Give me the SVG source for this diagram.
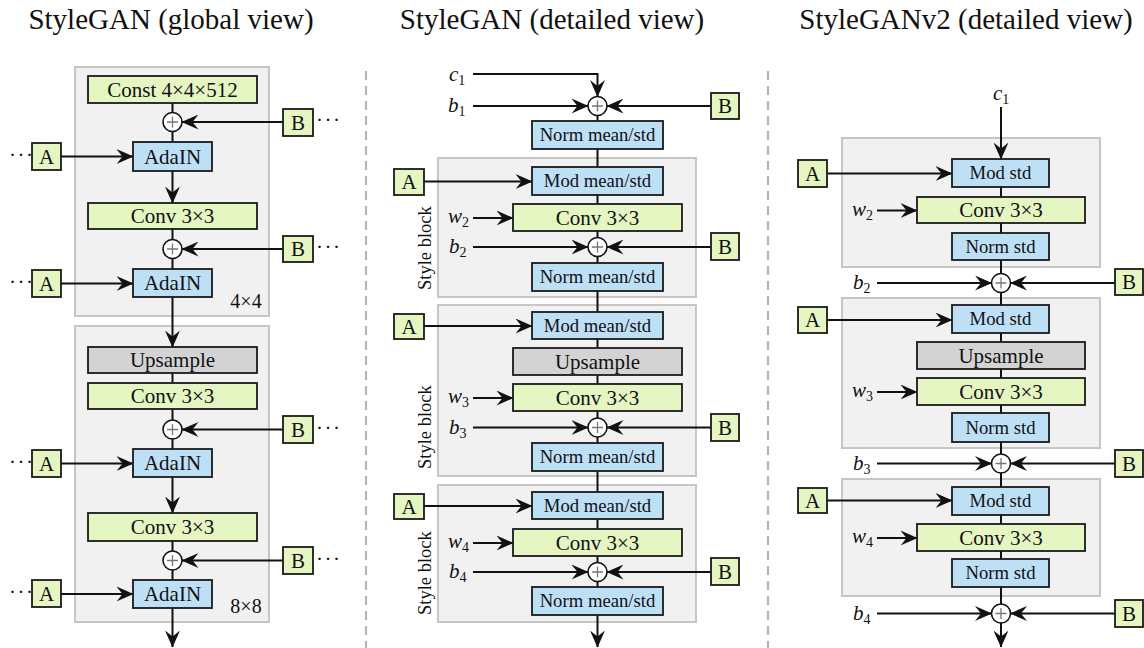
<svg xmlns="http://www.w3.org/2000/svg" width="1144" height="648" viewBox="0 0 1144 648">
<style>
text{font-family:"Liberation Serif","Times New Roman",serif;fill:#111}
.title{font-size:29px;text-anchor:middle}
.t21{font-size:21px;text-anchor:middle}
.t19{font-size:18.7px;text-anchor:middle}
.it{font-size:21px;font-style:italic}
.sub{font-size:14px;font-style:normal}
.sb{font-size:18.5px}
.res{font-size:20px;text-anchor:middle}
.dots{font-size:21px;letter-spacing:1.5px}
.panel{fill:#f1f1f1;stroke:#c6c6c6;stroke-width:2}
.g{fill:#e5f6c2;stroke:#1a1a1a;stroke-width:1.8}
.b{fill:#bee0f7;stroke:#1a1a1a;stroke-width:1.8}
.u{fill:#d3d3d3;stroke:#1a1a1a;stroke-width:1.8}
.ln{fill:none;stroke:#111;stroke-width:2}
.ar{fill:none;stroke:#111;stroke-width:2;marker-end:url(#ah)}
.pc{fill:#fff;stroke:#111;stroke-width:1.6}
.pp{stroke:#777;stroke-width:1.3}
.sep{stroke:#b5b5b5;stroke-width:2.2;stroke-dasharray:9 6}
</style>
<defs>
<marker id="ah" markerUnits="userSpaceOnUse" markerWidth="17" markerHeight="15" viewBox="0 0 17 15" refX="16.5" refY="7.5" orient="auto">
<path d="M0,0 L17,7.5 L0,15 L6,7.5 z" fill="#111"/>
</marker>
<g id="plus"><circle r="9.5" class="pc"/><path d="M-5.5,0 H5.5 M0,-5.5 V5.5" class="pp"/></g>
</defs>
<rect width="1144" height="648" fill="#fff"/>

<g id="titles">
<text class="title" x="171" y="29">StyleGAN (global view)</text>
<text class="title" x="552" y="29">StyleGAN (detailed view)</text>
<text class="title" x="966" y="29">StyleGANv2 (detailed view)</text>
</g>

<g id="separators">
<line class="sep" x1="366" y1="71" x2="366" y2="648"/>
<line class="sep" x1="768" y1="71" x2="768" y2="648"/>
</g>

<g id="panels">
<rect id="p-l1" class="panel" x="75" y="67" width="194" height="249"/>
<rect id="p-l2" class="panel" x="75" y="326" width="194" height="296"/>
<rect id="p-m1" class="panel" x="438" y="158" width="258" height="139"/>
<rect id="p-m2" class="panel" x="438" y="305" width="258" height="171"/>
<rect id="p-m3" class="panel" x="438" y="485" width="258" height="137"/>
<rect id="p-r1" class="panel" x="842" y="138" width="258" height="129"/>
<rect id="p-r2" class="panel" x="842" y="298" width="258" height="150"/>
<rect id="p-r3" class="panel" x="842" y="479" width="258" height="117"/>
</g>

<g id="connectors">
<!-- left column -->
<path class="ln" d="M172.5,103 V142"/>
<path class="ar" d="M172.5,171 V203"/>
<path class="ln" d="M172.5,229 V269"/>
<path class="ar" d="M172.5,297 V347"/>
<path class="ln" d="M172.5,373 V383"/>
<path class="ln" d="M172.5,409 V449"/>
<path class="ar" d="M172.5,477 V513"/>
<path class="ln" d="M172.5,541 V580"/>
<path class="ar" d="M172.5,608 V647"/>
<path class="ar" d="M283,122 H182"/>
<path class="ar" d="M61,156.5 H133"/>
<path class="ar" d="M283,249 H182"/>
<path class="ar" d="M61,283.5 H133"/>
<path class="ar" d="M283,429.5 H182"/>
<path class="ar" d="M61,463.5 H133"/>
<path class="ar" d="M283,560.5 H182"/>
<path class="ar" d="M61,594 H133"/>
<!-- middle column -->
<path class="ar" d="M473,74 H597.5 V96.5"/>
<path class="ar" d="M473,106 H588"/>
<path class="ar" d="M711,106 H607"/>
<path class="ln" d="M597.5,115 V121 M597.5,149 V167 M597.5,195 V204 M597.5,231 V263 M597.5,291 V312 M597.5,339 V348 M597.5,375 V384 M597.5,411 V443 M597.5,471 V492 M597.5,519 V529 M597.5,556 V587"/>
<path class="ar" d="M597.5,615 V647"/>
<path class="ar" d="M424,181.5 H532"/>
<path class="ar" d="M473,218 H513"/>
<path class="ar" d="M473,247 H588"/>
<path class="ar" d="M711,247 H607"/>
<path class="ar" d="M424,326 H532"/>
<path class="ar" d="M473,398 H513"/>
<path class="ar" d="M473,427.5 H588"/>
<path class="ar" d="M711,427.5 H607"/>
<path class="ar" d="M424,506 H532"/>
<path class="ar" d="M473,543 H513"/>
<path class="ar" d="M473,572 H588"/>
<path class="ar" d="M711,572 H607"/>
<!-- right column -->
<path class="ar" d="M1001,107 V159"/>
<path class="ln" d="M1001,187 V197 M1001,223 V233 M1001,260 V305 M1001,333 V342 M1001,369 V378 M1001,405 V413 M1001,442 V487 M1001,515 V524 M1001,551 V559"/>
<path class="ar" d="M1001,587 V647"/>
<path class="ar" d="M827,173.5 H952"/>
<path class="ar" d="M877,210.5 H917"/>
<path class="ar" d="M877,283 H991.5"/>
<path class="ar" d="M1115,283 H1010.5"/>
<path class="ar" d="M827,320 H952"/>
<path class="ar" d="M877,392 H917"/>
<path class="ar" d="M877,463.5 H991.5"/>
<path class="ar" d="M1115,463.5 H1010.5"/>
<path class="ar" d="M827,500.5 H952"/>
<path class="ar" d="M877,538 H917"/>
<path class="ar" d="M877,613.5 H991.5"/>
<path class="ar" d="M1115,613.5 H1010.5"/>
</g>

<!-- ===== Left column nodes ===== -->
<g id="l-const"><rect class="g" x="88" y="76" width="169" height="27"/><text class="t21" x="172.5" y="96.5">Const 4×4×512</text></g>
<g id="l-plus1"><use href="#plus" x="172.5" y="122"/></g>
<g id="l-B1"><rect class="g" x="283" y="109" width="30" height="27"/><text class="t21" x="298" y="129.5">B</text><text class="dots" x="316" y="127">···</text></g>
<g id="l-A1"><rect class="g" x="32" y="143" width="29" height="27"/><text class="t21" x="46.5" y="163.5">A</text><text class="dots" x="9" y="161.5">···</text></g>
<g id="l-adain1"><rect class="b" x="133" y="142" width="79" height="29"/><text class="t21" x="172.5" y="163.5">AdaIN</text></g>
<g id="l-conv1"><rect class="g" x="88" y="203" width="169" height="26"/><text class="t21" x="172.5" y="223">Conv 3×3</text></g>
<g id="l-plus2"><use href="#plus" x="172.5" y="249"/></g>
<g id="l-B2"><rect class="g" x="283" y="236" width="30" height="26"/><text class="t21" x="298" y="256">B</text><text class="dots" x="316" y="254">···</text></g>
<g id="l-A2"><rect class="g" x="32" y="270" width="29" height="27"/><text class="t21" x="46.5" y="290.5">A</text><text class="dots" x="9" y="288.5">···</text></g>
<g id="l-adain2"><rect class="b" x="133" y="269" width="79" height="28"/><text class="t21" x="172.5" y="290">AdaIN</text></g>
<text id="l-res1" class="res" x="246" y="308">4×4</text>

<g id="l-up"><rect class="u" x="88" y="347" width="169" height="26"/><text class="t21" x="172.5" y="367">Upsample</text></g>
<g id="l-conv2"><rect class="g" x="88" y="383" width="169" height="26"/><text class="t21" x="172.5" y="403">Conv 3×3</text></g>
<g id="l-plus3"><use href="#plus" x="172.5" y="429.5"/></g>
<g id="l-B3"><rect class="g" x="283" y="416" width="30" height="27"/><text class="t21" x="298" y="436.5">B</text><text class="dots" x="316" y="434.5">···</text></g>
<g id="l-A3"><rect class="g" x="32" y="450" width="29" height="27"/><text class="t21" x="46.5" y="470.5">A</text><text class="dots" x="9" y="468.5">···</text></g>
<g id="l-adain3"><rect class="b" x="133" y="449" width="79" height="28"/><text class="t21" x="172.5" y="470">AdaIN</text></g>
<g id="l-conv3"><rect class="g" x="88" y="513" width="169" height="28"/><text class="t21" x="172.5" y="534">Conv 3×3</text></g>
<g id="l-plus4"><use href="#plus" x="172.5" y="560.5"/></g>
<g id="l-B4"><rect class="g" x="283" y="547" width="30" height="27"/><text class="t21" x="298" y="567.5">B</text><text class="dots" x="316" y="565.5">···</text></g>
<g id="l-A4"><rect class="g" x="32" y="580" width="29" height="27"/><text class="t21" x="46.5" y="600.5">A</text><text class="dots" x="9" y="598.5">···</text></g>
<g id="l-adain4"><rect class="b" x="133" y="580" width="79" height="28"/><text class="t21" x="172.5" y="601">AdaIN</text></g>
<text id="l-res2" class="res" x="246" y="613">8×8</text>

<!-- ===== Middle column nodes ===== -->
<g id="m-c1"><text class="it" x="449" y="81">c<tspan class="sub" dy="4">1</tspan></text></g>
<g id="m-b1"><text class="it" x="448" y="112">b<tspan class="sub" dy="4">1</tspan></text></g>
<g id="m-plus1"><use href="#plus" x="597.5" y="106"/></g>
<g id="m-B1"><rect class="g" x="711" y="93" width="28" height="26"/><text class="t21" x="725" y="113">B</text></g>
<g id="m-norm1"><rect class="b" x="532" y="121" width="131" height="28"/><text class="t19" x="597.5" y="141.2">Norm mean/std</text></g>

<g id="m-A2"><rect class="g" x="394" y="169" width="30" height="26"/><text class="t21" x="409" y="189">A</text></g>
<g id="m-mod2"><rect class="b" x="532" y="167" width="131" height="28"/><text class="t19" x="597.5" y="187.2">Mod mean/std</text></g>
<g id="m-w2"><text class="it" x="448" y="223">w<tspan class="sub" dy="4">2</tspan></text></g>
<g id="m-conv2"><rect class="g" x="513" y="204" width="169" height="27"/><text class="t21" x="597.5" y="224.5">Conv 3×3</text></g>
<g id="m-b2"><text class="it" x="449" y="253">b<tspan class="sub" dy="4">2</tspan></text></g>
<g id="m-plus2"><use href="#plus" x="597.5" y="247"/></g>
<g id="m-B2"><rect class="g" x="711" y="233" width="28" height="27"/><text class="t21" x="725" y="253.5">B</text></g>
<g id="m-norm2"><rect class="b" x="532" y="263" width="131" height="28"/><text class="t19" x="597.5" y="283.2">Norm mean/std</text></g>
<text class="sb" transform="rotate(-90 431 290)" x="431" y="290">Style block</text>

<g id="m-A3"><rect class="g" x="394" y="314" width="30" height="25"/><text class="t21" x="409" y="333.5">A</text></g>
<g id="m-mod3"><rect class="b" x="532" y="312" width="131" height="27"/><text class="t19" x="597.5" y="331.7">Mod mean/std</text></g>
<g id="m-up3"><rect class="u" x="513" y="348" width="169" height="27"/><text class="t21" x="597.5" y="368.5">Upsample</text></g>
<g id="m-w3"><text class="it" x="448" y="403">w<tspan class="sub" dy="4">3</tspan></text></g>
<g id="m-conv3"><rect class="g" x="513" y="384" width="169" height="27"/><text class="t21" x="597.5" y="404.5">Conv 3×3</text></g>
<g id="m-b3"><text class="it" x="449" y="433.5">b<tspan class="sub" dy="4">3</tspan></text></g>
<g id="m-plus3"><use href="#plus" x="597.5" y="427.5"/></g>
<g id="m-B3"><rect class="g" x="711" y="414" width="28" height="27"/><text class="t21" x="725" y="434.5">B</text></g>
<g id="m-norm3"><rect class="b" x="532" y="443" width="131" height="28"/><text class="t19" x="597.5" y="463.2">Norm mean/std</text></g>
<text class="sb" transform="rotate(-90 431 469)" x="431" y="469">Style block</text>

<g id="m-A4"><rect class="g" x="394" y="494" width="30" height="25"/><text class="t21" x="409" y="513.5">A</text></g>
<g id="m-mod4"><rect class="b" x="532" y="492" width="131" height="27"/><text class="t19" x="597.5" y="511.7">Mod mean/std</text></g>
<g id="m-w4"><text class="it" x="448" y="548">w<tspan class="sub" dy="4">4</tspan></text></g>
<g id="m-conv4"><rect class="g" x="513" y="529" width="169" height="27"/><text class="t21" x="597.5" y="549.5">Conv 3×3</text></g>
<g id="m-b4"><text class="it" x="449" y="578">b<tspan class="sub" dy="4">4</tspan></text></g>
<g id="m-plus4"><use href="#plus" x="597.5" y="572"/></g>
<g id="m-B4"><rect class="g" x="711" y="558" width="28" height="27"/><text class="t21" x="725" y="578.5">B</text></g>
<g id="m-norm4"><rect class="b" x="532" y="587" width="131" height="28"/><text class="t19" x="597.5" y="607.2">Norm mean/std</text></g>
<text class="sb" transform="rotate(-90 431 615)" x="431" y="615">Style block</text>

<!-- ===== Right column nodes ===== -->
<g id="r-c1"><text class="it" x="993" y="100">c<tspan class="sub" dy="4">1</tspan></text></g>
<g id="r-A2"><rect class="g" x="798" y="160" width="29" height="27"/><text class="t21" x="812.5" y="180.5">A</text></g>
<g id="r-mod2"><rect class="b" x="952" y="159" width="97" height="28"/><text class="t19" x="1000.5" y="179.2">Mod std</text></g>
<g id="r-w2"><text class="it" x="852" y="215.5">w<tspan class="sub" dy="4">2</tspan></text></g>
<g id="r-conv2"><rect class="g" x="917" y="197" width="168" height="26"/><text class="t21" x="1001" y="217">Conv 3×3</text></g>
<g id="r-norm2"><rect class="b" x="952" y="233" width="97" height="27"/><text class="t19" x="1000.5" y="252.7">Norm std</text></g>
<g id="r-b2"><text class="it" x="853" y="289">b<tspan class="sub" dy="4">2</tspan></text></g>
<g id="r-plus2"><use href="#plus" x="1001" y="283"/></g>
<g id="r-B2"><rect class="g" x="1115" y="269" width="28" height="26"/><text class="t21" x="1129" y="289">B</text></g>

<g id="r-A3"><rect class="g" x="798" y="307" width="29" height="26"/><text class="t21" x="812.5" y="327">A</text></g>
<g id="r-mod3"><rect class="b" x="952" y="305" width="97" height="28"/><text class="t19" x="1000.5" y="325.2">Mod std</text></g>
<g id="r-up3"><rect class="u" x="917" y="342" width="168" height="27"/><text class="t21" x="1001" y="362.5">Upsample</text></g>
<g id="r-w3"><text class="it" x="852" y="397">w<tspan class="sub" dy="4">3</tspan></text></g>
<g id="r-conv3"><rect class="g" x="917" y="378" width="168" height="27"/><text class="t21" x="1001" y="398.5">Conv 3×3</text></g>
<g id="r-norm3"><rect class="b" x="952" y="413" width="97" height="29"/><text class="t19" x="1000.5" y="433.7">Norm std</text></g>
<g id="r-b3"><text class="it" x="853" y="469.5">b<tspan class="sub" dy="4">3</tspan></text></g>
<g id="r-plus3"><use href="#plus" x="1001" y="463.5"/></g>
<g id="r-B3"><rect class="g" x="1115" y="450" width="28" height="27"/><text class="t21" x="1129" y="470.5">B</text></g>

<g id="r-A4"><rect class="g" x="798" y="488" width="29" height="25"/><text class="t21" x="812.5" y="507.5">A</text></g>
<g id="r-mod4"><rect class="b" x="952" y="487" width="97" height="28"/><text class="t19" x="1000.5" y="507.2">Mod std</text></g>
<g id="r-w4"><text class="it" x="852" y="543">w<tspan class="sub" dy="4">4</tspan></text></g>
<g id="r-conv4"><rect class="g" x="917" y="524" width="168" height="27"/><text class="t21" x="1001" y="544.5">Conv 3×3</text></g>
<g id="r-norm4"><rect class="b" x="952" y="559" width="97" height="28"/><text class="t19" x="1000.5" y="579.2">Norm std</text></g>
<g id="r-b4"><text class="it" x="853" y="619.5">b<tspan class="sub" dy="4">4</tspan></text></g>
<g id="r-plus4"><use href="#plus" x="1001" y="613.5"/></g>
<g id="r-B4"><rect class="g" x="1115" y="600" width="28" height="27"/><text class="t21" x="1129" y="620.5">B</text></g>
</svg>
